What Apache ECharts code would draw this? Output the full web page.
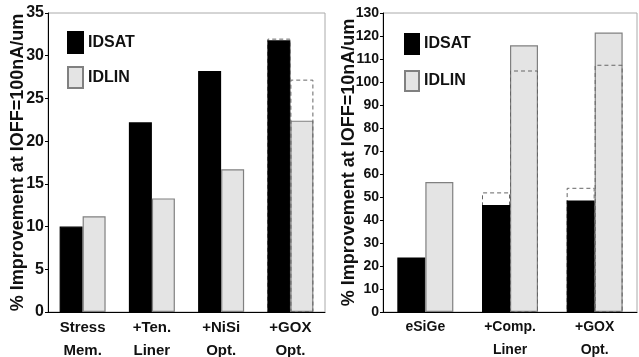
<!DOCTYPE html>
<html>
<head>
<meta charset="utf-8">
<script src="https://cdn.jsdelivr.net/npm/echarts@6/dist/echarts.min.js"></script>
<style>
html,body{margin:0;padding:0;background:#fff;}
#c{width:639px;height:357px;}
</style>
</head>
<body>
<div id="c"></div>
<script>
// Left chart (IOFF = 100nA/um)
var leftCategories = ['Stress\nMem.', '+Ten.\nLiner', '+NiSi\nOpt.', '+GOX\nOpt.'];
var leftIDSAT = [10.0, 22.2, 28.2, 31.8];
var leftIDLIN = [11.2, 13.3, 16.7, 22.4];
var leftIDSATRef = ['-', '-', '-', 32.0];
var leftIDLINRef = ['-', '-', '-', 27.2];
var leftYTicks = {min: 0, max: 35, interval: 5};

// Right chart (IOFF = 10nA/um)
var rightCategories = ['eSiGe', '+Comp.\nLiner', '+GOX\nOpt.'];
var rightIDSAT = [23.7, 46.5, 48.5];
var rightIDLIN = [56.5, 116.0, 121.5];
var rightIDSATRef = ['-', 52.0, 54.0];
var rightIDLINRef = ['-', 105.0, 107.5];
var rightYTicks = {min: 0, max: 130, interval: 10};

var SANS = "'Liberation Sans', Arial, sans-serif";

function xAxes(cats, gridIndex, fs) {
  return [
    {
      type: 'category', gridIndex: gridIndex, data: cats,
      axisLine: {lineStyle: {color: '#000', width: 1}},
      axisTick: {show: false},
      axisLabel: {color: '#111', fontFamily: SANS, fontWeight: 'bold', fontSize: fs, lineHeight: 23, margin: 4, interval: 0}
    },
    {
      type: 'category', gridIndex: gridIndex, data: cats, show: false
    }
  ];
}

function yAxis(t, gridIndex, name, fs, gap) {
  return {
    type: 'value', gridIndex: gridIndex, min: t.min, max: t.max, interval: t.interval,
    name: name, nameLocation: 'middle', nameRotate: 90, nameGap: gap, nameMoveOverlap: false,
    nameTextStyle: {color: '#111', fontFamily: SANS, fontWeight: 'bold', fontSize: 18},
    axisLine: {show: true, lineStyle: {color: '#000', width: 1}},
    axisTick: {show: true, length: 3, lineStyle: {color: '#000'}},
    splitLine: {show: false},
    axisLabel: {color: '#111', fontFamily: SANS, fontWeight: 'bold', fontSize: fs, margin: 4}
  };
}

function solid(name, data, xi, yi, w, fill, border) {
  return {
    type: 'bar', name: name, data: data, xAxisIndex: xi, yAxisIndex: yi,
    barWidth: w, barGap: 0, z: 2,
    itemStyle: {color: fill, borderColor: border, borderWidth: 1.2},
    emphasis: {disabled: true}
  };
}

function dashed(name, data, xi, yi, w, z) {
  return {
    type: 'bar', name: name, data: data, xAxisIndex: xi, yAxisIndex: yi,
    barWidth: w, barGap: 0, z: z, silent: true,
    itemStyle: {color: 'rgba(0,0,0,0)', borderColor: '#666', borderWidth: 1, borderType: [4, 3]},
    emphasis: {disabled: true}
  };
}

var BLACK = '#000000';
var GREY = '#e4e4e4';
var GREYB = '#808080';

var legendText = {color: '#111', fontFamily: SANS, fontWeight: 'bold', fontSize: 16};

var chart = echarts.init(document.getElementById('c'), null, {renderer: 'canvas'});
chart.setOption({
  animation: false,
  backgroundColor: '#ffffff',
  grid: [
    {left: 48, top: 13, width: 277, height: 299, show: true, borderColor: '#aaaaaa', borderWidth: 1, backgroundColor: 'transparent', outerBoundsMode: 'none', containLabel: false},
    {left: 383, top: 13, width: 254, height: 299, show: true, borderColor: '#aaaaaa', borderWidth: 1, backgroundColor: 'transparent', outerBoundsMode: 'none', containLabel: false}
  ],
  legend: [
    {
      orient: 'vertical', left: 62, top: 26, itemWidth: 15, itemHeight: 21, itemGap: 12, icon: 'rect',
      data: ['IDSAT', 'IDLIN'], selectedMode: false,
      textStyle: legendText
    },
    {
      orient: 'vertical', left: 399, top: 28, itemWidth: 14, itemHeight: 20, itemGap: 15, icon: 'rect',
      data: ['IDSAT', 'IDLIN'], selectedMode: false,
      textStyle: legendText
    }
  ],
  xAxis: xAxes(leftCategories, 0, 15).concat(xAxes(rightCategories, 1, 14)),
  yAxis: [
    yAxis(leftYTicks, 0, '% Improvement at IOFF=100nA/um', 16, 21),
    yAxis(rightYTicks, 1, '% Improvement at IOFF=10nA/um', 14, 25)
  ],
  series: [
    dashed('IDSAT ref L', leftIDSATRef, 1, 0, 23, 1),
    dashed('IDLIN ref L', leftIDLINRef, 1, 0, 23, 3),
    solid('IDSAT', leftIDSAT, 0, 0, 23, BLACK, BLACK),
    solid('IDLIN', leftIDLIN, 0, 0, 23, GREY, GREYB),
    dashed('IDSAT ref R', rightIDSATRef, 3, 1, 28, 1),
    dashed('IDLIN ref R', rightIDLINRef, 3, 1, 28, 3),
    solid('IDSAT', rightIDSAT, 2, 1, 28, BLACK, BLACK),
    solid('IDLIN', rightIDLIN, 2, 1, 28, GREY, GREYB)
  ]
});
</script>
</body>
</html>
